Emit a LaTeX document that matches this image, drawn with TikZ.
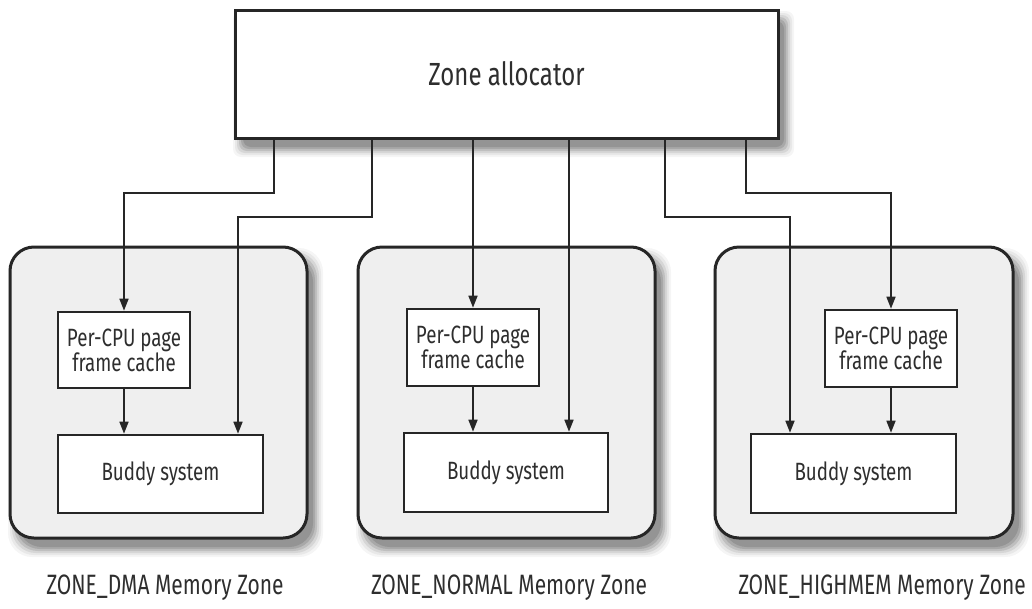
\documentclass[tikz,border=0pt]{standalone}
\usepackage{fontspec}
\setmainfont{Fira Sans}[FakeStretch=0.75]
\usetikzlibrary{arrows.meta}
\definecolor{ink}{HTML}{262626}
\definecolor{txt}{HTML}{2E2E2E}
\definecolor{zonefill}{HTML}{EFEFEF}
% soft shadow: x1 y1 x2 y2 corner-radius
\newcommand\softshade[5]{%
  \foreach \ee/\cc in {9/4, 7/9, 5/16, 3/25, 1/34, -1/42}{%
    \fill[black!\cc, rounded corners=#5] (#1+7-\ee, #2+10-\ee) rectangle (#3+7+\ee, #4+10+\ee);}}
\tikzset{
  zonebox/.style={draw=ink, line width=3pt, fill=zonefill, rounded corners=24pt, inner sep=0pt},
  allocbox/.style={draw=ink, line width=3pt, fill=white, inner sep=0pt, text=txt,
    font=\fontsize{32}{36}\selectfont},
  innerbox/.style={draw=ink, line width=2.6pt, fill=white, inner sep=0pt, text=txt,
    align=center, font=\fontsize{25}{24}\selectfont},
  zonelabel/.style={text=txt, inner sep=0pt, font=\fontsize{28}{30}\selectfont},
  conn/.style={draw=ink, line width=1.6pt, -{Triangle[length=12pt,width=9pt]}},
}
\begin{document}
\begin{tikzpicture}[x=1pt,y=-1pt]
\useasboundingbox (0,0) rectangle (1032,608);
% shadows
\softshade{10}{247}{307}{538}{24pt}
\softshade{358}{247}{655}{538}{24pt}
\softshade{715}{247}{1013}{538}{24pt}
\softshade{235}{10}{778}{138}{8pt}
% zones
\node[zonebox, minimum width=297pt, minimum height=291pt] (zdma) at (158.5,392.5) {};
\node[zonebox, minimum width=297pt, minimum height=291pt] (znorm) at (506.5,392.5) {};
\node[zonebox, minimum width=298pt, minimum height=291pt] (zhigh) at (864,392.5) {};
% inner boxes
\node[innerbox, minimum width=132pt, minimum height=76pt] (pcp1) at (124,350) {Per-CPU page\\frame cache};
\node[innerbox, minimum width=205pt, minimum height=78pt] (bud1) at (160.5,474) {Buddy system};
\node[innerbox, minimum width=132pt, minimum height=77pt] (pcp2) at (473,347.5) {Per-CPU page\\frame cache};
\node[innerbox, minimum width=204pt, minimum height=79pt] (bud2) at (506,472.5) {Buddy system};
\node[innerbox, minimum width=132pt, minimum height=77pt] (pcp3) at (891,348.5) {Per-CPU page\\frame cache};
\node[innerbox, minimum width=205pt, minimum height=79pt] (bud3) at (853.5,473.5) {Buddy system};
% allocator
\node[allocbox, minimum width=543pt, minimum height=128pt] (alloc) at (506.5,74) {Zone allocator};
% bend points
\coordinate (c1) at (274,193);
\coordinate (c2) at (372,217);
\coordinate (e2) at (238,217);
\coordinate (k4) at (569,217);
\coordinate (c5) at (665,217);
\coordinate (e5) at (790,217);
\coordinate (c6) at (746,193);
% connectors
\draw[conn] (alloc.south -| c1) -- (c1) -| (pcp1.north);
\draw[conn] (alloc.south -| c2) |- (e2) -- (e2 |- bud1.north);
\draw[conn] (alloc.south -| pcp2.north) -- (pcp2.north);
\draw[conn] (alloc.south -| k4) -- (k4 |- bud2.north);
\draw[conn] (alloc.south -| c5) |- (e5) -- (e5 |- bud3.north);
\draw[conn] (alloc.south -| c6) -- (c6) -| (pcp3.north);
\draw[conn] (pcp1.south) -- (pcp1.south |- bud1.north);
\draw[conn] (pcp2.south) -- (pcp2.south |- bud2.north);
\draw[conn] (pcp3.south) -- (pcp3.south |- bud3.north);
% labels
\node[zonelabel] (ldma) at (165,588) {ZONE\_DMA Memory Zone};
\node[zonelabel] (lnorm) at (509,588) {ZONE\_NORMAL Memory Zone};
\node[zonelabel] (lhigh) at (882,588) {ZONE\_HIGHMEM Memory Zone};
\end{tikzpicture}
\end{document}
